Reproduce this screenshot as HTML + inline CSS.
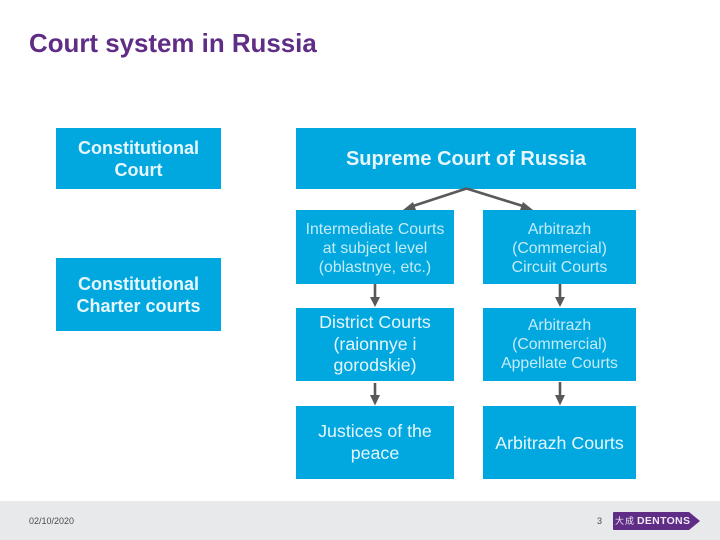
<!DOCTYPE html>
<html><head><meta charset="utf-8">
<style>
html,body{margin:0;padding:0;background:#fff}
#s{position:relative;width:720px;height:540px;overflow:hidden;background:#fff;font-family:"Liberation Sans",Arial,sans-serif}
.b{position:absolute;background:#00a8df}
.t{position:absolute;left:0;right:0;text-align:center;white-space:nowrap}
.l{font-size:15.8px;line-height:19px;color:#c4ebf8}
.m{font-size:17.8px;line-height:21.6px;color:#e6f6fc}
.h{font-size:18px;line-height:21.6px;font-weight:bold;color:#e6f6fc}
</style></head><body><div id="s">
<div style="position:absolute;left:29px;top:30px;font-size:25.9px;line-height:28px;font-weight:bold;color:#5f2c86;white-space:nowrap">Court system in Russia</div>

<div class="b" style="left:56px;top:128px;width:165px;height:61px"><div class="t h" style="top:10px">Constitutional<br>Court</div></div>
<div class="b" style="left:56px;top:258px;width:165px;height:73px"><div class="t h" style="top:16px">Constitutional<br>Charter courts</div></div>
<div class="b" style="left:296px;top:128px;width:340px;height:61px"><div class="t" style="top:19px;font-size:20px;line-height:24px;font-weight:bold;color:#e6f6fc">Supreme Court of Russia</div></div>

<div class="b" style="left:296px;top:210px;width:158px;height:74px"><div class="t l" style="top:9.500px">Intermediate Courts<br>at subject level<br>(oblastnye, etc.)</div></div>
<div class="b" style="left:483px;top:210px;width:153px;height:74px"><div class="t l" style="top:9.500px">Arbitrazh<br>(Commercial)<br>Circuit Courts</div></div>
<div class="b" style="left:296px;top:308px;width:158px;height:73px"><div class="t m" style="top:4px">District Courts<br>(raionnye i<br>gorodskie)</div></div>
<div class="b" style="left:483px;top:308px;width:153px;height:73px"><div class="t l" style="top:8px">Arbitrazh<br>(Commercial)<br>Appellate Courts</div></div>
<div class="b" style="left:296px;top:406px;width:158px;height:73px"><div class="t m" style="top:15px">Justices of the<br>peace</div></div>
<div class="b" style="left:483px;top:406px;width:153px;height:73px"><div class="t m" style="top:27px">Arbitrazh Courts</div></div>

<svg style="position:absolute;left:0;top:0" width="720" height="540">
<g stroke="#58595b" stroke-width="2.6" fill="none">
<path d="M466.500 188.500L410 207"/><path d="M466.500 188.500L526 207"/>
<path d="M375 284V301"/><path d="M560 284V301"/>
<path d="M375 383V399"/><path d="M560 382V399"/>
</g>
<g fill="#58595b">
<path d="M403 210L413 202L416 210Z"/><path d="M533 210L523 202L520 210Z"/>
<path d="M370 297H380L375 307Z"/><path d="M555 297H565L560 307Z"/>
<path d="M370 395H380L375 405.500Z"/><path d="M555 395H565L560 405.500Z"/>
</g>
</svg>

<div style="position:absolute;left:0;top:501px;width:720px;height:39px;background:#e8e9eb"></div>
<div style="position:absolute;left:29px;top:515px;font-size:9px;line-height:12px;color:#4b4c4f">02/10/2020</div>
<div style="position:absolute;left:597px;top:515px;font-size:9px;line-height:12px;color:#4b4c4f">3</div>
<svg style="position:absolute;left:613px;top:512px" width="88" height="18"><path d="M1 0H76L87 9L76 18H1Q0 18 0 17V1Q0 0 1 0Z" fill="#5f2c86"/></svg>
<div style="position:absolute;left:615px;top:515px;font-size:9px;line-height:12px;color:#f0e8f4;white-space:nowrap;font-family:'Liberation Sans','Noto Sans CJK SC',sans-serif;letter-spacing:1px">大成</div>
<div style="position:absolute;left:637px;top:515px;font-size:10.500px;line-height:13px;color:#f0e8f4;white-space:nowrap;font-weight:bold;letter-spacing:.3px">DENTONS</div>
</div></body></html>
